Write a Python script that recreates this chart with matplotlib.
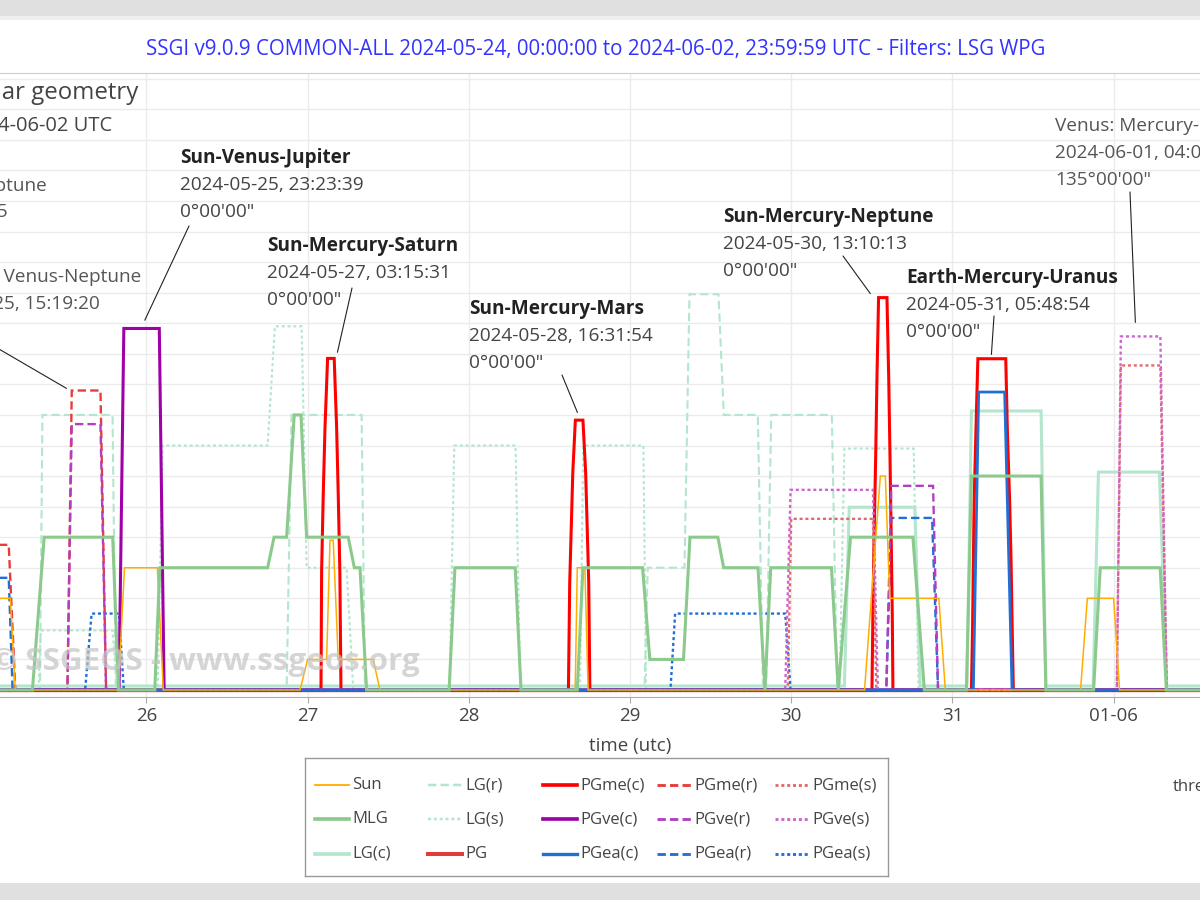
import numpy as np
import matplotlib
matplotlib.use('Agg')
import matplotlib.pyplot as plt
import matplotlib.dates as mdates
from matplotlib.patches import Rectangle
from matplotlib.lines import Line2D
from matplotlib.ticker import FuncFormatter, MultipleLocator
from datetime import datetime

plt.rcParams['font.family'] = ['Open Sans', 'DejaVu Sans']
plt.rcParams['lines.scale_dashes'] = False

# ---------------- data (time = day of May 2024, 32 = June 1) ----------------
sun_t = [25.0, 25.156, 25.187, 25.826, 25.864, 26.068, 26.105, 26.953, 27.0, 27.118, 27.139, 27.159, 27.19,
         27.407, 27.449, 28.66, 28.673, 28.72, 28.74, 30.455, 30.553, 30.584, 30.611, 30.916, 30.956,
         31.795, 31.837, 32.0, 32.037, 33.0]
sun_v = [3, 3, 0, 0, 4, 4, 0, 0, 1, 1, 4.9, 4.9, 1, 1, 0, 0, 4, 4, 0, 0, 7, 7, 3, 3, 0, 0, 3, 3, 0, 0]

mlg_t = [25.0, 25.293, 25.366, 25.791, 25.827, 26.052, 26.083, 26.752, 26.792, 26.87, 26.917, 26.959, 26.994,
         27.252, 27.29, 27.325, 27.366, 27.878, 27.914, 28.288, 28.324, 28.673, 28.708, 29.078, 29.123,
         29.332, 29.372, 29.545, 29.581, 29.794, 29.837, 29.873, 30.250, 30.292, 30.368, 30.755, 30.826,
         31.087, 31.118, 31.550, 31.580, 31.876, 31.917, 32.289, 32.327, 33.0]
mlg_v = [0, 0, 5, 5, 0, 0, 4, 4, 5, 5, 9, 9, 5, 5, 4, 4, 0, 0, 4, 4, 0, 0, 4, 4, 1, 1, 5, 5, 4, 4, 0, 4, 4,
         0, 5, 5, 0, 0, 7, 7, 0, 0, 4, 4, 0, 0]

lgc_t = [25.0, 30.33, 30.36, 30.767, 30.80, 31.09, 31.118, 31.55, 31.58, 31.873, 31.906, 32.284, 32.33, 33.0]
lgc_v = [0.13, 0.13, 5.98, 5.98, 0.13, 0.13, 9.13, 9.13, 0.13, 0.13, 7.13, 7.13, 0.13, 0.13]

lgr_t = [25.0, 25.34, 25.355, 25.79, 25.81, 26.87, 26.90, 27.335, 27.356, 29.09, 29.11, 29.338, 29.369,
         29.549, 29.582, 29.793, 29.825, 29.845, 29.876, 30.252, 30.285, 33.0]
lgr_v = [0, 0, 9, 9, 0, 0, 9, 9, 0, 0, 4, 4, 12.95, 12.95, 9, 9, 0, 0, 9, 9, 0, 0]

lgs_t = [25.0, 25.33, 25.345, 25.79, 25.82, 26.07, 26.10, 26.752, 26.797, 26.963, 26.994, 27.242, 27.283,
         27.88, 27.91, 28.29, 28.32, 28.69, 28.71, 29.083, 29.10, 30.30, 30.33, 30.76, 30.79, 33.0]
lgs_v = [0, 0, 1.95, 1.95, 0, 0, 8, 8, 11.9, 11.9, 4, 4, 0, 0, 8, 8, 0, 0, 8, 8, 0, 0, 7.9, 7.9, 0, 0]

pg_t = [25.0, 33.0]
pg_v = [0, 0]

pgmec_t = [25.0, 27.083, 27.087, 27.097, 27.108, 27.124, 27.165, 27.18, 27.19, 27.2, 27.207,
           28.618, 28.626, 28.645, 28.661, 28.708, 28.725, 28.744, 28.751,
           30.501, 30.507, 30.513, 30.524, 30.532, 30.542, 30.594, 30.605, 30.613, 30.621, 30.627, 30.631,
           31.118, 31.125, 31.13, 31.135, 31.146, 31.158, 31.331, 31.341, 31.355, 31.364, 31.371, 31.378, 33.0]
pgmec_v = [0, 0, 3.9, 6.4, 8.6, 10.85, 10.85, 8.6, 6.4, 3.9, 0,
           0, 3.5, 7.1, 8.83, 8.83, 7.1, 3.5, 0,
           0, 2.5, 4.7, 7.6, 10.2, 12.84, 12.84, 10.2, 7.6, 4.7, 2.5, 0,
           0, 2, 4.2, 6.2, 8.5, 10.84, 10.84, 8.5, 6.2, 4.2, 2, 0, 0]

pgmer_t = [25.0, 25.146, 25.187, 25.51, 25.537, 25.715, 25.75, 33.0]
pgmer_v = [4.75, 4.75, 0, 0, 9.8, 9.8, 0, 0]

pgmes_t = [25.0, 29.979, 30.0, 30.507, 30.528, 32.02, 32.045, 32.29, 32.33, 33.0]
pgmes_v = [0, 0, 5.6, 5.6, 0, 0, 10.62, 10.62, 0, 0]

pgvec_t = [25.0, 25.83, 25.86, 26.08, 26.11, 33.0]
pgvec_v = [0, 0, 11.83, 11.83, 0, 0]

pgver_t = [25.0, 25.51, 25.537, 25.715, 25.75, 30.59, 30.621, 30.88, 30.911, 33.0]
pgver_v = [0, 0, 8.7, 8.7, 0, 0, 6.68, 6.68, 0, 0]

pgves_t = [25.0, 29.963, 29.996, 30.507, 30.538, 32.02, 32.045, 32.29, 32.33, 33.0]
pgves_v = [0, 0, 6.55, 6.55, 0, 0, 11.57, 11.57, 0, 0]

pgeac_t = [25.0, 31.13, 31.163, 31.324, 31.37, 33.0]
pgeac_v = [0, 0, 9.75, 9.75, 0, 0]

pgear_t = [25.0, 25.146, 25.17, 30.59, 30.621, 30.874, 30.911, 33.0]
pgear_v = [3.67, 3.67, 0, 0, 5.63, 5.63, 0, 0]

pgeas_t = [25.0, 25.62, 25.66, 25.83, 25.86, 29.251, 29.28, 29.963, 29.996, 33.0]
pgeas_v = [0, 0, 2.5, 2.5, 0, 0, 2.5, 2.5, 0, 0]

title = ("SSGI v9.0.9 COMMON-ALL 2024-05-24, 00:00:00 to 2024-06-02, 23:59:59 UTC"
         " - Filters: LSG WPG")

# annotations: (title, date, angle, target_t, target_v)
events = [
    ("Sun-Venus-Jupiter", "2024-05-25, 23:23:39", "0°00'00\"", 25.99, 12.1),
    ("Sun-Mercury-Saturn", "2024-05-27, 03:15:31", "0°00'00\"", 27.185, 11.05),
    ("Sun-Mercury-Mars", "2024-05-28, 16:31:54", "0°00'00\"", 28.674, 9.08),
    ("Sun-Mercury-Neptune", "2024-05-30, 13:10:13", "0°00'00\"", 30.491, 12.97),
    ("Earth-Mercury-Uranus", "2024-05-31, 05:48:54", "0°00'00\"", 31.242, 10.98),
    ("Venus: Mercury-Earth-Pluto", "2024-06-01, 04:03:12", "135°00'00\"", 32.135, 12.03),
]

# ---------------- styles ----------------
C_SUN = '#ffad00'
C_MLG = '#8bc98c'
C_LG = '#b3e6cc'
C_PG = '#e03c3c'
C_ME = '#ff0000'
C_MER = '#e83c3c'
C_MES = '#e06a6a'
C_VE = '#a000a8'
C_VER = '#b040c0'
C_VES = '#cc66cc'
C_EA = '#1f6fd6'
DASH = (0, (6, 3))
DOT = (0, (2.2, 2.0))

series = [
    ('PG', pg_t, pg_v, dict(color=C_PG, lw=2.4, ls='-'), 2.0),
    ('PGme(c)', pgmec_t, pgmec_v, dict(color=C_ME, lw=2.2, ls='-'), 2.6),
    ('PGme(r)', pgmer_t, pgmer_v, dict(color=C_MER, lw=1.7, ls=DASH), 2.6),
    ('PGme(s)', pgmes_t, pgmes_v, dict(color=C_MES, lw=1.7, ls=DOT), 2.6),
    ('PGve(c)', pgvec_t, pgvec_v, dict(color=C_VE, lw=2.2, ls='-'), 2.65),
    ('PGve(r)', pgver_t, pgver_v, dict(color=C_VER, lw=1.7, ls=DASH), 2.65),
    ('PGve(s)', pgves_t, pgves_v, dict(color=C_VES, lw=1.7, ls=DOT), 2.65),
    ('PGea(c)', pgeac_t, pgeac_v, dict(color=C_EA, lw=2.0, ls='-'), 2.7),
    ('PGea(r)', pgear_t, pgear_v, dict(color=C_EA, lw=1.7, ls=DASH), 2.55),
    ('PGea(s)', pgeas_t, pgeas_v, dict(color=C_EA, lw=1.7, ls=DOT), 2.55),
    ('LG(r)', lgr_t, lgr_v, dict(color=C_LG, lw=1.5, ls=DASH), 2.2),
    ('LG(s)', lgs_t, lgs_v, dict(color=C_LG, lw=1.5, ls=DOT), 2.2),
    ('LG(c)', lgc_t, lgc_v, dict(color=C_LG, lw=2.2, ls='-'), 2.3),
    ('Sun', sun_t, sun_v, dict(color=C_SUN, lw=1.1, ls='-'), 2.8),
    ('MLG', mlg_t, mlg_v, dict(color=C_MLG, lw=2.2, ls='-'), 2.9),
]

W, H = 1200, 900
fig = plt.figure(figsize=(12, 9), dpi=100)
fig.patch.set_facecolor('white')
fig.patches.append(Rectangle((0, 1 - 16 / H), 1, 16 / H, transform=fig.transFigure,
                             facecolor='#e0e0e0', edgecolor='none', zorder=0))
fig.patches.append(Rectangle((0, 1 - 20 / H), 1, 4 / H, transform=fig.transFigure,
                             facecolor='#eeeeee', edgecolor='none', zorder=0))
fig.patches.append(Rectangle((0, 0), 1, 17 / H, transform=fig.transFigure,
                             facecolor='#e0e0e0', edgecolor='none', zorder=0))

ax = fig.add_axes([-176 / W, (H - 697) / H, 1612 / W, (697 - 72.7) / H])
base = mdates.date2num(datetime(2024, 5, 1)) - 1.0


def tx(t):
    return base + np.asarray(t, dtype=float)


for name, t, v, st, z in series:
    ax.plot(tx(t), v, solid_joinstyle='miter', dash_joinstyle='miter', zorder=z, **st)

ax.set_xlim(mdates.date2num(datetime(2024, 5, 24)), mdates.date2num(datetime(2024, 6, 3)))
ax.set_ylim(-0.23, 20.2)
ax.xaxis.set_major_locator(mdates.DayLocator())


def fmt(x, pos):
    d = mdates.num2date(x)
    return d.strftime('%d-%m') if d.day == 1 else d.strftime('%d')


ax.xaxis.set_major_formatter(FuncFormatter(fmt))
ax.yaxis.set_major_locator(MultipleLocator(1))
ax.set_yticklabels([])
ax.tick_params(axis='y', length=0)
ax.tick_params(axis='x', length=4, color='#aaaaaa', labelcolor='#444444', labelsize=13.5, pad=3)
ax.grid(True, color='#ebebeb', lw=1.0, zorder=0)
ax.set_axisbelow(True)
for s in ['left', 'right']:
    ax.spines[s].set_visible(False)
ax.spines['bottom'].set_color('#aaaaaa')
ax.spines['top'].set_color('#cccccc')
ax.set_xlabel('time (utc)', color='#444444', fontsize=13.5, labelpad=9)

# watermark
fig.text(420 / W, 1 - 662 / H, '© SSGEOS - www.ssgeos.org', ha='right', va='center',
         fontsize=22.6, fontweight='bold', color='#c4c4c4', alpha=0.7, zorder=1)

# title
fig.text(596 / W, 1 - 50 / H, title, ha='center', va='center', color='#3333ff', fontsize=14.8)

AF = 13.7
# left clipped texts
fig.text(138 / W, 1 - 93 / H, 'Solar geometry', ha='right', va='center', color='#444444', fontsize=17.3)
fig.text(112 / W, 1 - 126 / H, '2024-05-24 - 2024-06-02 UTC', ha='right', va='center', color='#444444',
         fontsize=14.5)
fig.text(47 / W, 1 - 186 / H, 'Sun-Mercury-Neptune', ha='right', va='center', color='#555555', fontsize=AF)
fig.text(8 / W, 1 - 212 / H, '2024-05-24, 21:58:45', ha='right', va='center', color='#555555', fontsize=AF)
fig.text(141 / W, 1 - 277 / H, 'Mercury: Venus-Neptune', ha='right', va='center', color='#555555',
         fontsize=AF)
fig.text(100 / W, 1 - 304 / H, '2024-05-25, 15:19:20', ha='right', va='center', color='#555555', fontsize=AF)
ax.annotate('', xy=(tx(25.504), 9.87), xycoords='data', xytext=(-20, H - 338), textcoords='figure pixels',
            arrowprops=dict(arrowstyle='-', lw=0.8, color='#222222', shrinkA=0, shrinkB=0),
            annotation_clip=False)

# annotations
pos = [(180, 158, 189, 226), (267, 246, 352, 288), (469, 309, 562, 375), (723, 217, 843, 256),
       (906, 278, 994, 316), (1055, 126, 1130, 192)]
for i, ((ttl, dt, ang, et, ev), (px, py, lx, ly)) in enumerate(zip(events, pos)):
    bold = i < 5
    fig.text(px / W, 1 - py / H, ttl, ha='left', va='center', fontsize=AF,
             fontweight='bold' if bold else 'normal', color='#222222' if bold else '#555555')
    fig.text(px / W, 1 - (py + 27) / H, dt, ha='left', va='center', fontsize=AF,
             color='#444444' if bold else '#555555')
    fig.text(px / W, 1 - (py + 54) / H, ang, ha='left', va='center', fontsize=AF,
             color='#444444' if bold else '#555555')
    ax.annotate('', xy=(tx(et), ev), xycoords='data', xytext=(lx, H - ly), textcoords='figure pixels',
                arrowprops=dict(arrowstyle='-', lw=0.8, color='#222222', shrinkA=0, shrinkB=0),
                annotation_clip=False)

fig.text(1173 / W, 1 - 787 / H, 'threshold', ha='left', va='center', color='#444444', fontsize=12)

# legend box (manual, fixed columns)
lx0, ly0, lw_, lh_ = 305, 758, 583, 118
lax = fig.add_axes([lx0 / W, 1 - (ly0 + lh_) / H, lw_ / W, lh_ / H])
lax.set_xlim(0, lw_)
lax.set_ylim(lh_, 0)
lax.set_xticks([])
lax.set_yticks([])
for s in lax.spines.values():
    s.set_color('#999999')
    s.set_linewidth(1.0)
style_by_name = {n: st for n, t, v, st, z in series}
order = ['Sun', 'MLG', 'LG(c)', 'LG(r)', 'LG(s)', 'PG', 'PGme(c)', 'PGve(c)', 'PGea(c)',
         'PGme(r)', 'PGve(r)', 'PGea(r)', 'PGme(s)', 'PGve(s)', 'PGea(s)']
col_x = [10, 123, 238, 352, 470]
row_y = [27, 61, 96]
for k, name in enumerate(order):
    c, r = divmod(k, 3)
    st = dict(style_by_name[name])
    st['lw'] = st['lw'] * 1.2
    lax.add_line(Line2D([col_x[c], col_x[c] + 34], [row_y[r], row_y[r]], **st))
    lax.text(col_x[c] + 37, row_y[r], name, ha='left', va='center', fontsize=12, color='#444444')

fig.savefig('out.png', dpi=100)
